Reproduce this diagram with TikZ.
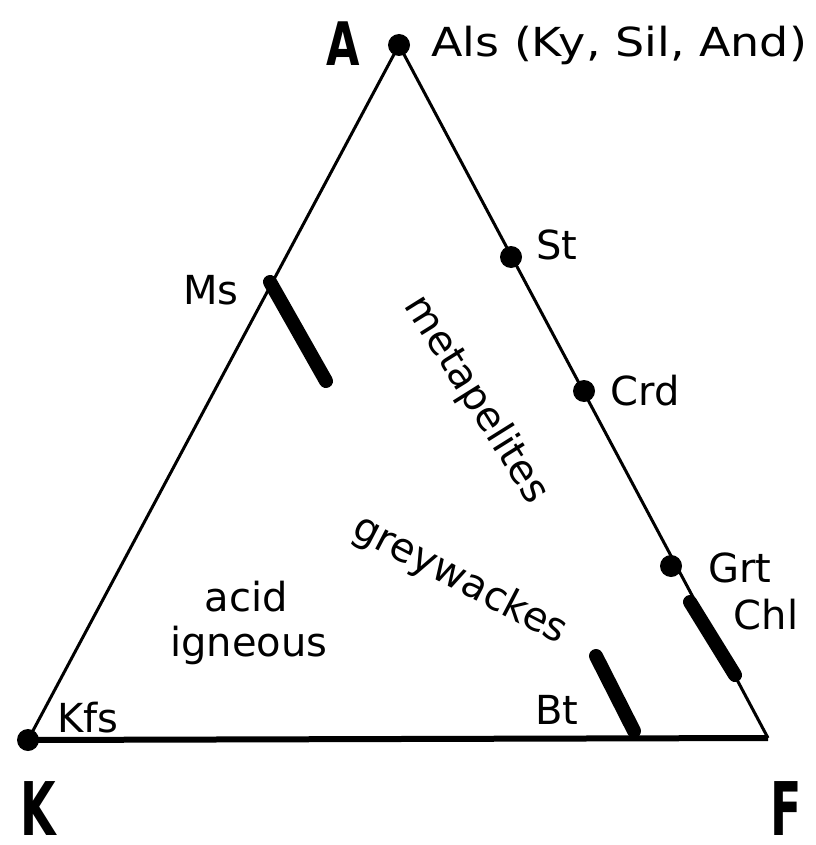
\documentclass[tikz,border=0pt]{standalone}
\usepackage{fontspec}
\usepackage{graphicx}
\setmainfont{DejaVu Sans}
\begin{document}
\begin{tikzpicture}[x=1pt,y=-1pt,
  dot/.style={circle,fill=black,inner sep=0pt,minimum size=22pt},
  corner/.style={inner sep=0pt,minimum size=0pt},
  lab/.style={font=\fontsize{40}{44}\selectfont,inner sep=0pt},
  big/.style={font=\bfseries\fontsize{74}{78}\selectfont,inner sep=0pt},
  bigA/.style={font=\bfseries\fontsize{60}{64}\selectfont,inner sep=0pt},
  edge/.style={line width=3pt},
  base/.style={line width=6pt},
  bar/.style={line width=14pt,line cap=round}]
\useasboundingbox (0,0) rectangle (815,845);
% vertices and points
\node[dot] (A) at (399,45) {};
\node[dot] (K) at (28,740) {};
\node[corner] (F) at (768,738) {};
\node[dot] (St) at (511,257) {};
\node[dot] (Crd) at (584,391) {};
\node[dot] (Grt) at (671,566) {};
\coordinate (ms1) at (270,282);
\coordinate (ms2) at (326,381);
\coordinate (chl1) at (690,602);
\coordinate (chl2) at (735,675);
\coordinate (bt1) at (596,656);
\coordinate (bt2) at (634,731);
% edges
\draw[edge] (K.center) -- (A.center);
\draw[edge] (A.center) -- (F.center);
\draw[base] (K.center) -- (F.center);
% thick bars
\draw[bar] (ms1) -- (ms2);
\draw[bar] (chl1) -- (chl2);
\draw[bar] (bt1) -- (bt2);
% labels
\node[bigA] (lA) at (343,44) {\scalebox{0.72}[1]{A}};
\node[big] (lK) at (38,809) {\scalebox{0.62}[1]{K}};
\node[big] (lF) at (786,809) {\scalebox{0.62}[1]{F}};
\node[lab,anchor=west] (als) at (431,45) {\scalebox{1.15}[1]{Als (Ky, Sil, And)}};
\node[lab] (lSt) at (557,245) {St};
\node[lab] (lCrd) at (645,391) {Crd};
\node[lab] (lGrt) at (740,568) {Grt};
\node[lab] (lChl) at (766,615) {Chl};
\node[lab] (lMs) at (211,290) {Ms};
\node[lab] (lKfs) at (88,718) {Kfs};
\node[lab] (lBt) at (557,710) {Bt};
\node[lab] (acid) at (246,597) {acid};
\node[lab] (ign) at (249,645) {igneous};
\node[lab,rotate=-58] (meta) at (476,400) {metapelites};
\node[lab,rotate=-27.5] (grey) at (460,580) {greywackes};
\end{tikzpicture}
\end{document}
